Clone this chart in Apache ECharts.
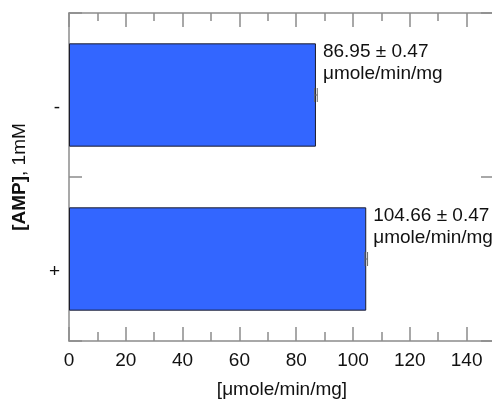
<!DOCTYPE html>
<html>
<head>
<meta charset="utf-8">
<script src="https://cdn.jsdelivr.net/npm/echarts@6/dist/echarts.min.js"></script>
<style>
  html, body { margin: 0; padding: 0; background: #fff; }
  #chart { width: 492px; height: 400px; }
</style>
</head>
<body>
<div id="chart"></div>
<script>
// AMP condition categories, top to bottom
const categories = ['-', '+'];
// Specific activity (μmole/min/mg) and its uncertainty
const activity = [86.95, 104.66];
const activityErr = [0.47, 0.47];
// Axis ticks
const majorTicks = [0, 20, 40, 60, 80, 100, 120, 140];
const minorTicks = [10, 30, 50, 70, 90, 110, 130];

const FONT = '"Liberation Sans", Arial, sans-serif';
const FS = 19;
const AXIS_GRAY = '#8c8c8c';

const chart = echarts.init(document.getElementById('chart'), null, { renderer: 'canvas' });

const xBase = {
  type: 'value', min: 0, max: 150,
  gridIndex: 0,
  splitLine: { show: false }
};
const axisLine = { show: true, onZero: false, lineStyle: { color: AXIS_GRAY, width: 1.5 } };
const tickLine = { color: AXIS_GRAY, width: 1.5 };

chart.setOption({
  animation: false,
  textStyle: { fontFamily: FONT },
  grid: { left: 69, top: 13, right: -3, bottom: 59, containLabel: false, outerBoundsMode: 'none' },
  xAxis: [
    Object.assign({}, xBase, {
      position: 'bottom',
      name: '[μmole/min/mg]', nameLocation: 'middle', nameGap: 39,
      nameTextStyle: { fontSize: FS, color: '#111', fontFamily: FONT },
      axisLine,
      axisTick: { show: true, inside: true, length: 14, customValues: majorTicks, lineStyle: tickLine },
      axisLabel: { show: true, customValues: majorTicks, fontSize: FS, color: '#111', margin: 10, fontFamily: FONT }
    }),
    Object.assign({}, xBase, {
      position: 'bottom',
      axisLine: { show: false, onZero: false },
      axisTick: { show: true, inside: true, length: 9, customValues: minorTicks, lineStyle: tickLine },
      axisLabel: { show: false }
    }),
    Object.assign({}, xBase, {
      position: 'top',
      axisLine,
      axisTick: { show: true, inside: true, length: 14, customValues: majorTicks, lineStyle: tickLine },
      axisLabel: { show: false }
    }),
    Object.assign({}, xBase, {
      position: 'top',
      axisLine: { show: false, onZero: false },
      axisTick: { show: true, inside: true, length: 8, customValues: minorTicks, lineStyle: tickLine },
      axisLabel: { show: false }
    })
  ],
  yAxis: [
    {
      type: 'category', data: categories, inverse: true, position: 'left', gridIndex: 0,
      name: '{b|[AMP]}{n|, 1mM}', nameLocation: 'middle', nameGap: 40,
      nameTextStyle: {
        fontSize: FS, color: '#111', fontFamily: FONT,
        rich: {
          b: { fontSize: FS, fontWeight: 'bold', color: '#111', fontFamily: FONT },
          n: { fontSize: FS, color: '#111', fontFamily: FONT }
        }
      },
      axisLine,
      axisTick: { show: true, inside: true, length: 13, lineStyle: tickLine },
      axisLabel: { fontSize: FS, color: '#111', margin: 9, verticalAlign: 'top', padding: [3, 0, 0, 0], fontFamily: FONT }
    },
    {
      type: 'category', data: categories, inverse: true, position: 'right', gridIndex: 0, offset: 0,
      axisLine,
      axisTick: { show: true, inside: true, length: 14, lineStyle: tickLine },
      axisLabel: { show: false }
    }
  ],
  series: [
    {
      type: 'bar',
      xAxisIndex: 0, yAxisIndex: 0,
      data: activity,
      barWidth: '63%',
      itemStyle: { color: '#3366ff', borderColor: '#1c1c2a', borderWidth: 1 },
      label: {
        show: true,
        position: ['100%', 0],
        offset: [7, -3],
        align: 'left', verticalAlign: 'top',
        fontSize: FS, lineHeight: 22, color: '#111', fontFamily: FONT,
        formatter: p => p.value.toFixed(2) + ' ± ' + activityErr[p.dataIndex].toFixed(2) + '\nμmole/min/mg'
      },
      z: 2
    },
    {
      type: 'custom',
      xAxisIndex: 0, yAxisIndex: 0,
      data: activity.map((v, i) => [v, i, activityErr[i]]),
      renderItem: (params, api) => {
        const v = api.value(0), idx = api.value(1), e = api.value(2);
        const lo = api.coord([v - e, idx]);
        const hi = api.coord([v + e, idx]);
        const h = 7;
        const style = { stroke: '#666', lineWidth: 1 };
        return {
          type: 'group',
          children: [
            { type: 'line', shape: { x1: lo[0], y1: lo[1], x2: hi[0], y2: hi[1] }, style },
            { type: 'line', shape: { x1: lo[0], y1: lo[1] - h, x2: lo[0], y2: lo[1] + h }, style },
            { type: 'line', shape: { x1: hi[0], y1: hi[1] - h, x2: hi[0], y2: hi[1] + h }, style }
          ]
        };
      },
      z: 3
    }
  ]
});
</script>
</body>
</html>
